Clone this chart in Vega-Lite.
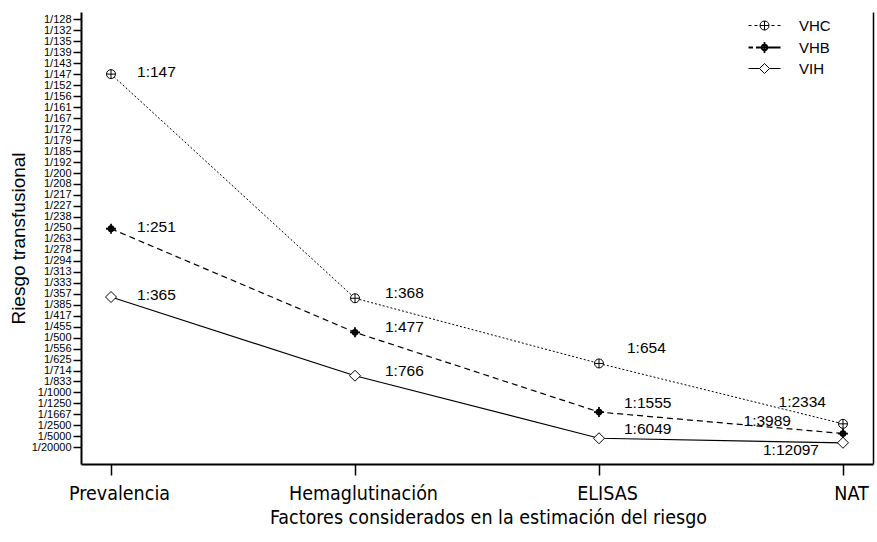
{
  "$schema": "https://vega.github.io/schema/vega-lite/v6.json",
  "width": 792,
  "height": 452,
  "autosize": "none",
  "padding": {"left": 81, "top": 12, "right": 4, "bottom": 78},
  "background": "white",
  "config": {
    "view": {"stroke": null},
    "axis": {"grid": false, "domainColor": "black", "tickColor": "black", "labelColor": "black", "titleColor": "black"}
  },
  "data": {
    "values": [
      {"stage": "Prevalencia", "series": "VHC", "risk": 0.006803, "label": "1:147"},
      {"stage": "Hemaglutinación", "series": "VHC", "risk": 0.002717, "label": "1:368"},
      {"stage": "ELISAS", "series": "VHC", "risk": 0.001529, "label": "1:654"},
      {"stage": "NAT", "series": "VHC", "risk": 0.000428, "label": "1:2334"},
      {"stage": "Prevalencia", "series": "VHB", "risk": 0.003984, "label": "1:251"},
      {"stage": "Hemaglutinación", "series": "VHB", "risk": 0.002096, "label": "1:477"},
      {"stage": "ELISAS", "series": "VHB", "risk": 0.000643, "label": "1:1555"},
      {"stage": "NAT", "series": "VHB", "risk": 0.000251, "label": "1:3989"},
      {"stage": "Prevalencia", "series": "VIH", "risk": 0.00274, "label": "1:365"},
      {"stage": "Hemaglutinación", "series": "VIH", "risk": 0.001305, "label": "1:766"},
      {"stage": "ELISAS", "series": "VIH", "risk": 0.000165, "label": "1:6049"},
      {"stage": "NAT", "series": "VIH", "risk": 0.0000827, "label": "1:12097"}
    ]
  },
  "encoding": {
    "x": {
      "field": "stage",
      "type": "nominal",
      "scale": {"type": "point", "domain": ["Prevalencia", "Hemaglutinación", "ELISAS", "NAT"], "padding": 0.123},
      "axis": {
        "title": "Factores considerados en la estimación del riesgo",
        "labelAngle": 0,
        "labelFont": "DejaVu Sans Condensed",
        "labelFontSize": 19.5,
        "labelPadding": 9,
        "labelOffset": 8,
        "tickSize": 11,
        "tickWidth": 1.5,
        "domainWidth": 2,
        "titleFont": "DejaVu Sans Condensed",
        "titleFontSize": 19.5,
        "titleFontWeight": "normal",
        "titlePadding": 6,
        "titleX": 407
      }
    }
  },
  "layer": [
    {
      "transform": [{"filter": "datum.series === 'VHC'"}],
      "mark": {"type": "line", "color": "black", "strokeWidth": 1, "strokeDash": [2, 2]},
      "encoding": {
        "y": {
          "field": "risk",
          "type": "quantitative",
          "scale": {"domain": [-0.000304, 0.007935], "nice": false, "zero": false},
          "axis": {
            "orient": "left",
            "values": [0, 0.0002, 0.0004, 0.0006, 0.0008, 0.001, 0.0012, 0.0014, 0.0016, 0.0018, 0.002, 0.0022, 0.0024, 0.0026, 0.0028, 0.003, 0.0032, 0.0034, 0.0036, 0.0038, 0.004, 0.0042, 0.0044, 0.0046, 0.0048, 0.005, 0.0052, 0.0054, 0.0056, 0.0058, 0.006, 0.0062, 0.0064, 0.0066, 0.0068, 0.007, 0.0072, 0.0074, 0.0076, 0.0078],
            "labelExpr": "datum.value < 0.0001 ? '1/20000' : '1/' + round(1 / datum.value + 0.0001)",
            "labelFont": "Liberation Sans",
            "labelFontSize": 11,
            "labelOverlap": false,
            "labelFlush": false,
            "labelBound": false,
            "labelPadding": 2,
            "tickSize": 8,
            "tickWidth": 1.5,
            "domainWidth": 2,
            "title": "Riesgo transfusional",
            "titleFont": "Liberation Sans",
            "titleFontSize": 19,
            "titleFontWeight": "normal",
            "titleAngle": -90,
            "titleX": -63,
            "titleY": 226,
            "titleAlign": "center",
            "titleBaseline": "middle"
          }
        },
        "opacity": {
          "field": "series",
          "type": "nominal",
          "scale": {"domain": ["VHC", "VHB", "VIH"], "range": [1, 1, 1]},
          "legend": {
            "title": null,
            "orient": "none",
            "legendX": 676,
            "legendY": 6,
            "padding": 0,
            "symbolSize": 100,
            "symbolType": {"expr": "datum.value === 'VHC' ? 'M-3.2,0L-2.6,0M-2,0L-1.4,0M1.4,0L2,0M2.6,0L3.2,0M-0.9,0A0.9,0.9,0,1,1,0.9,0A0.9,0.9,0,1,1,-0.9,0ZM-0.9,0L0.9,0M0,-0.9L0,0.9' : datum.value === 'VHB' ? 'M-3.2,0L-2.3,0M-1.7,0L-1.1,0M1.1,0L3.2,0M-1.1,0L1.1,0M0,-1.1L0,1.1M-0.55,0A0.55,0.55,0,1,1,0.55,0A0.55,0.55,0,1,1,-0.55,0Z' : 'M-3.2,0L-1,0M1,0L3.2,0M0,-1L1,0L0,1L-1,0Z'"},
            "symbolStrokeWidth": {"expr": "datum.value === 'VHB' ? 1.8 : 1"},
            "symbolFillColor": "transparent",
            "symbolStrokeColor": "black",
            "symbolOpacity": 1,
            "labelFont": "Liberation Sans",
            "labelFontSize": 15,
            "labelColor": "black",
            "labelOffset": 27,
            "rowPadding": 4
          }
        }
      }
    },
    {
      "transform": [{"filter": "datum.series === 'VHB'"}],
      "mark": {"type": "line", "color": "black", "strokeWidth": 1.2, "strokeDash": [6, 4]},
      "encoding": {"y": {"field": "risk", "type": "quantitative", "axis": null}}
    },
    {
      "transform": [{"filter": "datum.series === 'VIH'"}],
      "mark": {"type": "line", "color": "black", "strokeWidth": 1.2},
      "encoding": {"y": {"field": "risk", "type": "quantitative", "axis": null}}
    },
    {
      "transform": [{"filter": "datum.series === 'VHC'"}],
      "mark": {"type": "point", "fill": "white", "stroke": "black", "strokeWidth": 1, "size": 100, "opacity": 1, "fillOpacity": 1, "shape": "M-0.9,0A0.9,0.9,0,1,1,0.9,0A0.9,0.9,0,1,1,-0.9,0ZM-0.9,0L0.9,0M0,-0.9L0,0.9"},
      "encoding": {
        "y": {
          "field": "risk",
          "type": "quantitative",
          "axis": {"orient": "right", "labels": false, "ticks": false, "title": null, "domainWidth": 1.5, "domainColor": "black"}
        }
      }
    },
    {
      "transform": [{"filter": "datum.series === 'VHB'"}],
      "mark": {"type": "point", "fill": "white", "stroke": "black", "strokeWidth": 1.8, "size": 100, "opacity": 1, "fillOpacity": 1, "shape": "M-1,0L1,0M0,-1L0,1M-0.5,0A0.5,0.5,0,1,1,0.5,0A0.5,0.5,0,1,1,-0.5,0Z"},
      "encoding": {"y": {"field": "risk", "type": "quantitative", "axis": null}}
    },
    {
      "transform": [{"filter": "datum.series === 'VIH'"}],
      "mark": {"type": "point", "fill": "white", "stroke": "black", "strokeWidth": 1, "size": 100, "opacity": 1, "fillOpacity": 1, "shape": "M0,-1.1L1.1,0L0,1.1L-1.1,0Z"},
      "encoding": {"y": {"field": "risk", "type": "quantitative", "axis": null}}
    },
    {
      "transform": [{"filter": "datum.stage === 'Prevalencia'"}],
      "mark": {"type": "text", "align": "left", "baseline": "middle", "dx": 26, "dy": -2, "font": "Liberation Sans", "fontSize": 15.5, "color": "black"},
      "encoding": {"y": {"field": "risk", "type": "quantitative", "axis": null}, "text": {"field": "label"}}
    },
    {
      "transform": [{"filter": "datum.stage === 'Hemaglutinación'"}],
      "mark": {"type": "text", "align": "left", "baseline": "middle", "dx": 30, "dy": -5, "font": "Liberation Sans", "fontSize": 15.5, "color": "black"},
      "encoding": {"y": {"field": "risk", "type": "quantitative", "axis": null}, "text": {"field": "label"}}
    },
    {
      "transform": [{"filter": "datum.stage === 'ELISAS' && datum.series !== 'VHC'"}],
      "mark": {"type": "text", "align": "left", "baseline": "middle", "dx": 25, "dy": -9, "font": "Liberation Sans", "fontSize": 15.5, "color": "black"},
      "encoding": {"y": {"field": "risk", "type": "quantitative", "axis": null}, "text": {"field": "label"}}
    },
    {
      "transform": [{"filter": "datum.stage === 'ELISAS' && datum.series === 'VHC'"}],
      "mark": {"type": "text", "align": "left", "baseline": "middle", "dx": 28, "dy": -15, "font": "Liberation Sans", "fontSize": 15.5, "color": "black"},
      "encoding": {"y": {"field": "risk", "type": "quantitative", "axis": null}, "text": {"field": "label"}}
    },
    {
      "transform": [{"filter": "datum.stage === 'NAT' && datum.series === 'VHC'"}],
      "mark": {"type": "text", "align": "right", "baseline": "middle", "dx": -17, "dy": -22, "font": "Liberation Sans", "fontSize": 15.5, "color": "black"},
      "encoding": {"y": {"field": "risk", "type": "quantitative", "axis": null}, "text": {"field": "label"}}
    },
    {
      "transform": [{"filter": "datum.stage === 'NAT' && datum.series === 'VHB'"}],
      "mark": {"type": "text", "align": "right", "baseline": "middle", "dx": -52, "dy": -13, "font": "Liberation Sans", "fontSize": 15.5, "color": "black"},
      "encoding": {"y": {"field": "risk", "type": "quantitative", "axis": null}, "text": {"field": "label"}}
    },
    {
      "transform": [{"filter": "datum.stage === 'NAT' && datum.series === 'VIH'"}],
      "mark": {"type": "text", "align": "right", "baseline": "middle", "dx": -24, "dy": 7, "font": "Liberation Sans", "fontSize": 15.5, "color": "black"},
      "encoding": {"y": {"field": "risk", "type": "quantitative", "axis": null}, "text": {"field": "label"}}
    }
  ],
  "resolve": {"axis": {"y": "independent"}}
}
